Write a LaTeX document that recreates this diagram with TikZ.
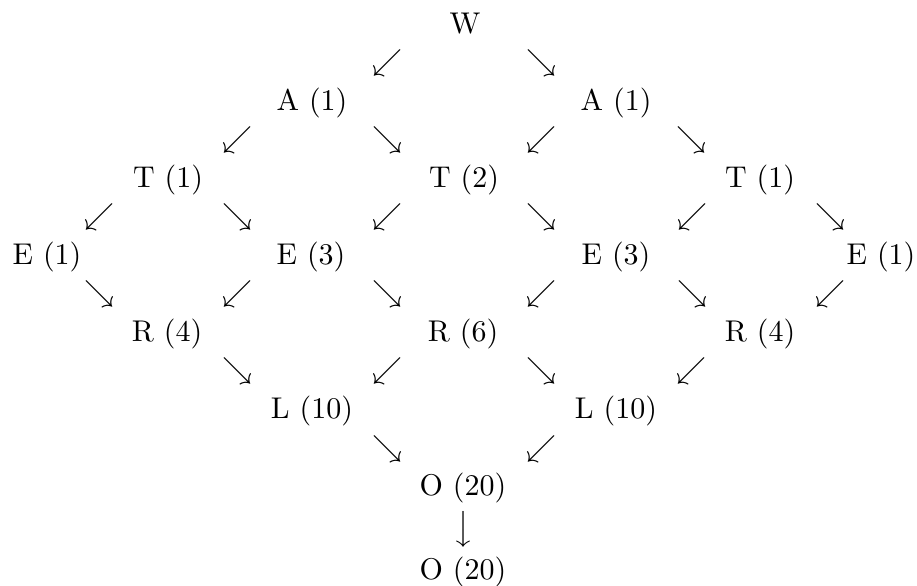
\documentclass[tikz,border=0pt]{standalone}
\begin{document}
\begin{tikzpicture}[x=0.33333pt,y=-0.33333pt,
  lbl/.style={anchor=base,inner sep=0pt,font=\normalsize},
  arr/.style={anchor=center,inner sep=0pt}]
\useasboundingbox (0,0) rectangle (917,585);
% letters
\node[lbl] (w)  at (465,33)  {W};
\node[lbl] (a1) at (312,110) {A (1)};
\node[lbl] (a2) at (616,110) {A (1)};
\node[lbl] (t1) at (168,187) {T (1)};
\node[lbl] (t2) at (464,187) {T (2)};
\node[lbl] (t3) at (760,187) {T (1)};
\node[lbl] (e1) at (47,264)  {E (1)};
\node[lbl] (e2) at (311,264) {E (3)};
\node[lbl] (e3) at (616,264) {E (3)};
\node[lbl] (e4) at (881,264) {E (1)};
\node[lbl] (r1) at (167,341) {R (4)};
\node[lbl] (r2) at (463,341) {R (6)};
\node[lbl] (r3) at (760,341) {R (4)};
\node[lbl] (l1) at (312,418) {L (10)};
\node[lbl] (l2) at (616,418) {L (10)};
\node[lbl] (o1) at (463,495) {O (20)};
\node[lbl] (o2) at (463,579) {O (20)};
% arrow glyphs
\node[arr] (x11) at (387,63) {$\swarrow$};
\node[arr] (x12) at (541,63) {$\searrow$};
\node[arr] (x21) at (237,140) {$\swarrow$};
\node[arr] (x22) at (387,140) {$\searrow$};
\node[arr] (x23) at (541,140) {$\swarrow$};
\node[arr] (x24) at (691,140) {$\searrow$};
\node[arr] (x31) at (99,217)  {$\swarrow$};
\node[arr] (x32) at (237,217) {$\searrow$};
\node[arr] (x33) at (387,217) {$\swarrow$};
\node[arr] (x34) at (541,217) {$\searrow$};
\node[arr] (x35) at (692,217) {$\swarrow$};
\node[arr] (x36) at (830,217) {$\searrow$};
\node[arr] (x41) at (99,294)  {$\searrow$};
\node[arr] (x42) at (237,294) {$\swarrow$};
\node[arr] (x43) at (387,294) {$\searrow$};
\node[arr] (x44) at (541,294) {$\swarrow$};
\node[arr] (x45) at (692,294) {$\searrow$};
\node[arr] (x46) at (830,294) {$\swarrow$};
\node[arr] (x51) at (237,371) {$\searrow$};
\node[arr] (x52) at (387,371) {$\swarrow$};
\node[arr] (x53) at (541,371) {$\searrow$};
\node[arr] (x54) at (691,371) {$\swarrow$};
\node[arr] (x61) at (387,449) {$\searrow$};
\node[arr] (x62) at (541,449) {$\swarrow$};
\node[arr] (x71) at (463,529) {$\big\downarrow$};
\end{tikzpicture}
\end{document}
